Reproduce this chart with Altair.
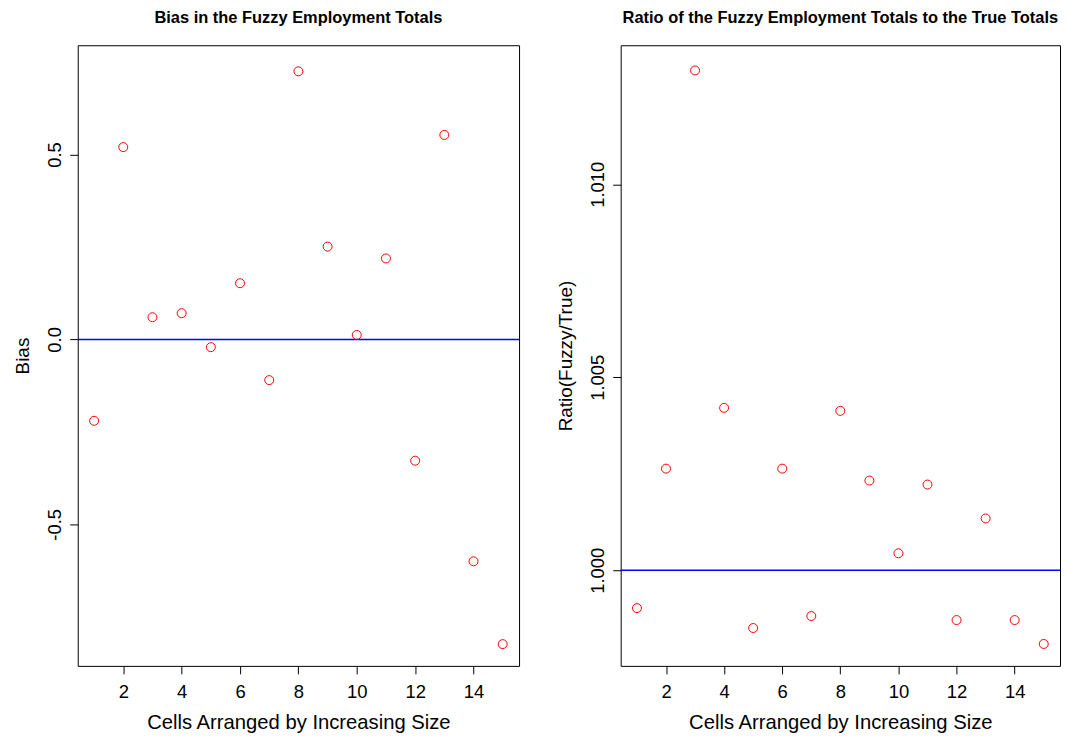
import altair as alt
import pandas as pd

# ---- data ----
cells = list(range(1, 16))
bias = [-0.220, 0.520, 0.060, 0.071, -0.021, 0.152, -0.110, 0.725,
        0.251, 0.012, 0.219, -0.328, 0.553, -0.600, -0.824]
ratio = [0.999019, 1.002633, 1.012950, 1.004208, 0.998503, 1.002633,
         0.998813, 1.004130, 1.002323, 1.000439, 1.002220, 0.998709,
         1.001342, 0.998709, 0.998090]

x_ticks = [2, 4, 6, 8, 10, 12, 14]
bias_ticks = [-0.5, 0.0, 0.5]
ratio_ticks = [1.000, 1.005, 1.010]

x_domain = [0.44, 15.56]
bias_domain = [-0.8828, 0.7955]
ratio_domain = [0.997522, 1.013603]

FONT = "Liberation Sans, Arial, Helvetica, sans-serif"
H = 623


def panel(values, title, ytitle, ydomain, yticks, yfmt, refval, width):
    df = pd.DataFrame({"cell": cells, "value": values})
    ref = pd.DataFrame({"value": [refval]})
    yenc = alt.Y(
        "value:Q",
        scale=alt.Scale(domain=ydomain, nice=False, zero=False),
        axis=alt.Axis(
            values=yticks, format=yfmt, title=ytitle,
            labelExpr="replace(datum.label, '\u2212', '-')",
            labelAngle=270, labelAlign="center", labelBaseline="alphabetic",
            labelPadding=9, tickSize=8,
            titleAngle=270, titleX=-49, titleY=H / 2, titleFontSize=19,
            titleAlign="center", titleBaseline="alphabetic",
        ),
    )
    xenc = alt.X(
        "cell:Q",
        scale=alt.Scale(domain=x_domain, nice=False, zero=False),
        axis=alt.Axis(
            values=x_ticks, format="d", title="Cells Arranged by Increasing Size",
            labelBaseline="alphabetic", labelPadding=23.5, tickSize=8,
            titleY=63, titleBaseline="alphabetic",
        ),
    )
    rule = alt.Chart(ref).mark_rule(color="#0000FF", strokeWidth=1.5).encode(y=yenc)
    pts = alt.Chart(df).mark_point(
        shape="circle", filled=False, color="#FF0000", size=81, strokeWidth=1, opacity=1
    ).encode(x=xenc, y=yenc)
    return alt.layer(rule, pts).properties(
        width=width, height=H,
        title=alt.TitleParams(
            text=title, font=FONT, fontSize=16.5, fontWeight="bold", color="black",
            anchor="middle", frame="group", offset=6, baseline="alphabetic",
        ),
    )


left = panel(bias, "Bias in the Fuzzy Employment Totals", "Bias",
             bias_domain, bias_ticks, ".1f", 0.0, 443)
right = panel(ratio, "Ratio of the Fuzzy Employment Totals to the True Totals",
              "Ratio(Fuzzy/True)", ratio_domain, ratio_ticks, ".3f", 1.0, 441)

chart = alt.hconcat(left, right, spacing=35).properties(
    padding={"left": 5, "top": 0, "right": 0, "bottom": 0},
    background="white",
).configure_view(
    stroke="black", strokeWidth=1, fill="white"
).configure_axis(
    domain=False, grid=False,
    tickColor="black", tickWidth=1,
    labelFont=FONT, labelFontSize=18.5, labelColor="black",
    titleFont=FONT, titleFontSize=20.3, titleFontWeight="normal", titleColor="black",
).configure_concat(spacing=35)

chart.save("out.html", embed_options={"renderer": "svg", "actions": False})
